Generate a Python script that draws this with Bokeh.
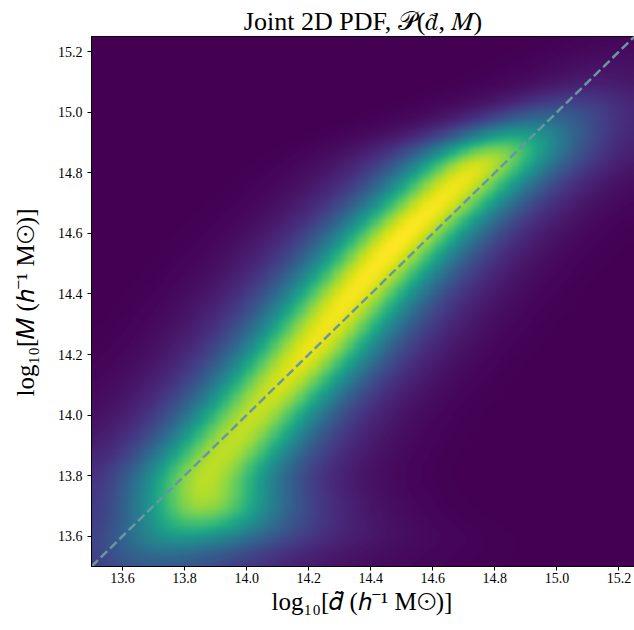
import numpy as np
from bokeh.plotting import figure
from bokeh.models import Range1d, LinearColorMapper, FixedTicker, PrintfTickFormatter
from bokeh.palettes import Viridis256
from bokeh.embed import file_html
from bokeh.resources import INLINE

# ---- values ----
# ridge of the joint PDF, described row by row (log10 M levels)
mass_levels = [13.50, 13.55, 13.60, 13.65, 13.70, 13.80, 14.00, 14.20, 14.40,
               14.60, 14.80, 14.85, 14.90, 14.95, 15.00, 15.05, 15.10, 15.25]
ridge_d     = [13.68, 13.72, 13.79, 13.84, 13.855, 13.865, 14.025, 14.19, 14.34,
               14.51, 14.715, 14.77, 14.83, 14.91, 14.99, 15.07, 15.12, 15.25]
peak_pdf    = [0.22, 0.36, 0.55, 0.72, 0.86, 0.89, 0.90, 0.96, 0.98,
               1.00, 0.97, 0.92, 0.72, 0.45, 0.28, 0.15, 0.07, 0.01]
core_low    = [0.15, 0.15, 0.145, 0.14, 0.135, 0.13, 0.13, 0.13, 0.13,
               0.13, 0.13, 0.13, 0.125, 0.12, 0.12, 0.12, 0.12, 0.12]
core_high   = [0.24, 0.23, 0.21, 0.17, 0.155, 0.14, 0.13, 0.13, 0.13,
               0.13, 0.135, 0.14, 0.14, 0.14, 0.14, 0.14, 0.14, 0.14]
halo_share = 0.4      # fraction of the profile in the wide wings
halo_ratio = 1.85     # wing width relative to core width
blur = 0.03           # smoothing of the PDF image (log10 units)

axis_min, axis_max = 13.5, 15.25
tick_values = [13.6, 13.8, 14.0, 14.2, 14.4, 14.6, 14.8, 15.0, 15.2]
diag = [13.5, 15.25]

# ---- build the PDF image from the row descriptions ----
n = 500
grid = np.linspace(axis_min, axis_max, n)
X, Y = np.meshgrid(grid, grid)
mu = np.interp(Y, mass_levels, ridge_d)
amp = np.interp(Y, mass_levels, peak_pdf)
sl = np.interp(Y, mass_levels, core_low)
sh = np.interp(Y, mass_levels, core_high)
dx = X - mu
sig = np.where(dx < 0, sl, sh)
prof = (1 - halo_share) * np.exp(-0.5 * (dx / sig) ** 2) + \
    halo_share * np.exp(-0.5 * (dx / (halo_ratio * sig)) ** 2)
Z = amp * prof
K = np.exp(-0.5 * ((grid[:, None] - grid[None, :]) / blur) ** 2)
K /= K.sum(axis=1, keepdims=True)
Z = K @ Z @ K.T
Z /= Z.max()

serif = "Liberation Serif"

p = figure(width=634, height=630, output_backend="svg", toolbar_location=None,
           x_range=Range1d(axis_min, axis_max), y_range=Range1d(axis_min, axis_max),
           min_border_left=91, min_border_right=0, min_border_top=36, min_border_bottom=64)

mapper = LinearColorMapper(palette=Viridis256, low=0, high=1)
p.image(image=[Z], x=axis_min, y=axis_min, dw=axis_max - axis_min, dh=axis_max - axis_min,
        color_mapper=mapper)
p.line(diag, diag, line_color="#6797a3", line_width=2.5, line_dash="9 4")

p.title.text = "Joint 2D PDF, \U0001D4AB(\U0001D451\u0303, \U0001D440)"
p.title.align = "center"
p.title.text_font = serif
p.title.text_font_size = "26px"
p.title.text_font_style = "normal"
p.title.text_color = "black"
p.title.standoff = 2

p.xaxis.axis_label = "log\u2081\u2080[\U0001D451\u0303 (\u210E\u207B\u00B9 M\u2299)]"
p.yaxis.axis_label = "log\u2081\u2080[\U0001D440 (\u210E\u207B\u00B9 M\u2299)]"

for ax in (p.xaxis, p.yaxis):
    ax.ticker = FixedTicker(ticks=tick_values)
    ax.formatter = PrintfTickFormatter(format="%.1f")
    ax.axis_label_text_font = serif
    ax.axis_label_text_font_size = "25px"
    ax.axis_label_text_font_style = "normal"
    ax.axis_label_text_color = "black"
    ax.major_label_text_font = serif
    ax.major_label_text_font_size = "14px"
    ax.major_label_text_color = "black"
    ax.major_tick_in = 0
    ax.major_tick_out = 4
    ax.minor_tick_line_color = None
    ax.axis_line_color = "black"
    ax.major_tick_line_color = "black"

p.xaxis.major_label_standoff = 2
p.xaxis.axis_label_standoff = 2
p.yaxis.major_label_standoff = 5
p.yaxis.axis_label_standoff = 16

p.grid.visible = False
p.outline_line_color = "black"
p.outline_line_width = 1
p.background_fill_color = "white"
p.border_fill_color = "white"

open("out.html", "w").write(file_html(p, INLINE))
